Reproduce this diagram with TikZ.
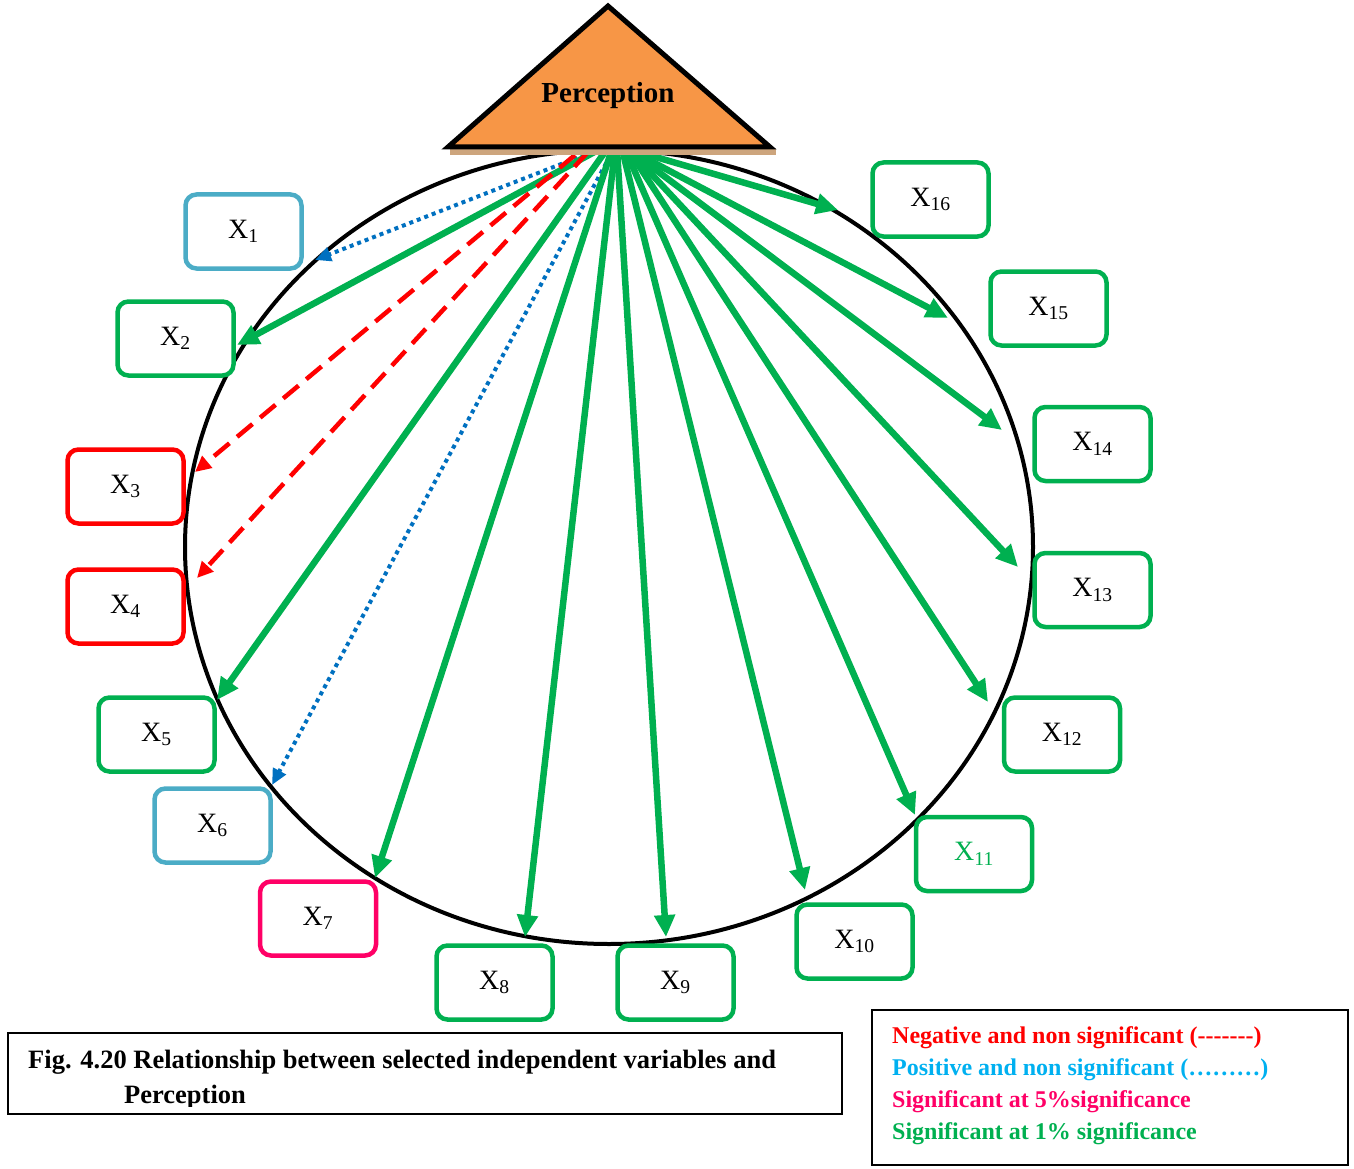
\documentclass[tikz,border=0pt]{standalone}
\usepackage{fontspec}
\setmainfont{Liberation Serif}[Ligatures=TeXOff]
\usetikzlibrary{arrows.meta}
\definecolor{xgreen}{RGB}{0,176,80}
\definecolor{xblue}{RGB}{75,172,198}
\definecolor{xred}{RGB}{255,0,0}
\definecolor{xpink}{RGB}{255,0,102}
\definecolor{dblue}{RGB}{0,112,192}
\definecolor{lblue}{RGB}{0,176,240}
\definecolor{orangef}{RGB}{247,150,70}
\definecolor{shadowc}{RGB}{205,165,125}
\begin{document}
\begin{tikzpicture}[x=1pt,y=-1pt,
  xbox/.style={draw, rounded corners=11pt, line width=4.5pt, minimum width=116pt, minimum height=74pt, fill=white, inner sep=0pt, font=\fontsize{28}{30}\selectfont},
  gbox/.style={xbox, draw=xgreen},
  bbox/.style={xbox, draw=xblue},
  rbox/.style={xbox, draw=xred},
  pbox/.style={xbox, draw=xpink},
  sigarrow/.style={-{Triangle[length=22pt,width=20pt]}, line width=6.5pt, xgreen},
  negarrow/.style={-{Triangle[length=16pt,width=15pt]}, line width=4.5pt, xred, dash pattern=on 20pt off 10pt},
  posarrow/.style={-{Triangle[length=16pt,width=14pt]}, line width=4pt, dblue, dash pattern=on 4pt off 4pt},
  legtext/.style={anchor=base west, inner sep=0pt, font=\fontsize{24}{26}\selectfont\bfseries},
  captext/.style={anchor=base west, inner sep=0pt, font=\fontsize{26.5}{28}\selectfont\bfseries}
]
\useasboundingbox (0,0) rectangle (1354,1169);

% circle
\draw[line width=4pt] (609,547) ellipse [x radius=424, y radius=397];

% start coordinates
\coordinate (s1) at (592,152);
\coordinate (s2) at (600,149);
\coordinate (s3) at (575,155);
\coordinate (s4) at (588,152);
\coordinate (s5) at (607,149);
\coordinate (s6) at (610,156);
\coordinate (s7) at (612,149);
\coordinate (s8) at (615,149);
\coordinate (s9) at (617,149);
\coordinate (s10) at (622,149);
\coordinate (s11) at (625,149);
\coordinate (s12) at (628,149);
\coordinate (s13) at (628,149);
\coordinate (s14) at (628,149);
\coordinate (s15) at (628,149);
\coordinate (s16) at (628,149);

% tip coordinates
\coordinate (t1) at (315,260);
\coordinate (t2) at (237,345);
\coordinate (t3) at (195,472);
\coordinate (t4) at (197,578);
\coordinate (t5) at (217,700);
\coordinate (t6) at (272,785);
\coordinate (t7) at (375,878);
\coordinate (t8) at (525,937);
\coordinate (t9) at (666,937);
\coordinate (t10) at (805,890);
\coordinate (t11) at (915,815);
\coordinate (t12) at (988,702);
\coordinate (t13) at (1018,567);
\coordinate (t14) at (1002,430);
\coordinate (t15) at (948,318);
\coordinate (t16) at (838,210);

\draw[posarrow] (s1) -- (t1);
\draw[sigarrow] (s2) -- (t2);
\draw[negarrow] (s3) -- (t3);
\draw[negarrow] (s4) -- (t4);
\draw[sigarrow] (s5) -- (t5);
\draw[posarrow] (s6) -- (t6);
\draw[sigarrow] (s7) -- (t7);
\draw[sigarrow] (s8) -- (t8);
\draw[sigarrow] (s9) -- (t9);
\draw[sigarrow] (s10) -- (t10);
\draw[sigarrow] (s11) -- (t11);
\draw[sigarrow] (s12) -- (t12);
\draw[sigarrow] (s13) -- (t13);
\draw[sigarrow] (s14) -- (t14);
\draw[sigarrow] (s15) -- (t15);
\draw[sigarrow] (s16) -- (t16);

% triangle
\fill[shadowc] (450,149) -- (776,149) -- (776,155) -- (450,155) -- cycle;
\draw[line width=5pt, fill=orangef, line join=miter] (608,6) -- (770,147) -- (448,147) -- cycle;
\node[font=\fontsize{29}{31}\selectfont\bfseries, inner sep=0pt] (perc) at (608,96) {Perception};

% boxes
\node[bbox] (x1) at (243.5,231.5) {X\textsubscript{1}};
\node[gbox] (x2) at (175.5,338.5) {X\textsubscript{2}};
\node[rbox] (x3) at (125.5,486.5) {X\textsubscript{3}};
\node[rbox] (x4) at (125.5,606.5) {X\textsubscript{4}};
\node[gbox] (x5) at (156.5,734.5) {X\textsubscript{5}};
\node[bbox] (x6) at (212.5,825.5) {X\textsubscript{6}};
\node[pbox] (x7) at (318,918.5) {X\textsubscript{7}};
\node[gbox] (x8) at (494.5,982.5) {X\textsubscript{8}};
\node[gbox] (x9) at (675.5,982.5) {X\textsubscript{9}};
\node[gbox] (x10) at (854.5,941.5) {X\textsubscript{10}};
\node[gbox, text=xgreen] (x11) at (974,854) {X\textsubscript{11}};
\node[gbox] (x12) at (1062,734.5) {X\textsubscript{12}};
\node[gbox] (x13) at (1092.5,590) {X\textsubscript{13}};
\node[gbox] (x14) at (1092.5,444) {X\textsubscript{14}};
\node[gbox] (x15) at (1048.5,308.5) {X\textsubscript{15}};
\node[gbox] (x16) at (930.5,199.5) {X\textsubscript{16}};

% caption
\draw[line width=1.5pt] (8,1033) rectangle (842,1114);
\begin{scope}
\clip (8,1033) rectangle (842,1106);
\node[captext] (cap1) at (28,1068) {Fig. 4.20 Relationship between selected independent variables and};
\node[captext] (cap2) at (124,1103) {Perception};
\end{scope}

% legend
\draw[line width=1.5pt] (872,1010) rectangle (1348,1165);
\node[legtext, text=xred] (l1) at (892,1043) {Negative and non significant (-------)};
\node[legtext, text=lblue] (l2) at (892,1075) {Positive and non significant (………)};
\node[legtext, text=xpink] (l3) at (892,1107) {Significant at 5\%significance};
\node[legtext, text=xgreen] (l4) at (892,1139) {Significant at 1\% significance};
\end{tikzpicture}
\end{document}
